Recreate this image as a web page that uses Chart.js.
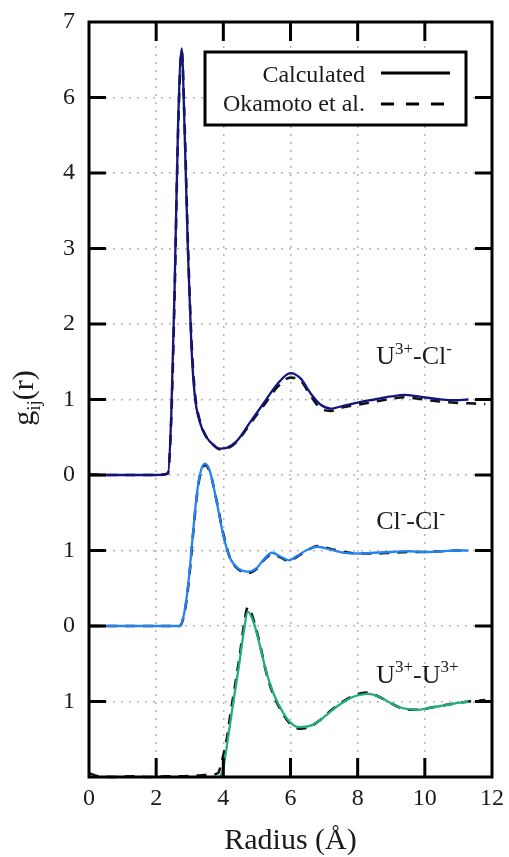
<!DOCTYPE html>
<html>
<head>
<meta charset="utf-8">
<script src="https://cdn.jsdelivr.net/npm/chart.js@4.4.0/dist/chart.umd.min.js"></script>
<style>
  html, body { margin: 0; padding: 0; background: #fff; }
</style>
</head>
<body>
<canvas id="rdfChart" width="509" height="857"></canvas>
<script>
// Radios (Å) y g(r)
const uclR = [0, 1, 2, 2.35, 2.45, 2.55, 2.65, 2.76, 2.85, 2.95, 3.05, 3.15, 3.3, 3.5, 3.7, 3.9, 4.1, 4.4, 4.8, 5.2, 5.6, 6.0, 6.3, 6.6, 6.9, 7.2, 7.6, 8.0, 8.5, 9.0, 9.4, 9.8, 10.3, 10.8, 11.3];
const uclCalc = [0, 0, 0, 0.02, 0.8, 2.5, 4.6, 5.65, 4.5, 2.9, 1.7, 1.05, 0.7, 0.5, 0.4, 0.35, 0.36, 0.45, 0.7, 0.95, 1.2, 1.35, 1.28, 1.08, 0.93, 0.88, 0.92, 0.96, 1.0, 1.04, 1.06, 1.04, 1.01, 0.99, 1.0];
const uclRefR = [0, 0.5, 1, 1.5, 2, 2.35, 2.45, 2.55, 2.65, 2.76, 2.85, 2.95, 3.05, 3.15, 3.3, 3.5, 3.7, 3.9, 4.1, 4.4, 4.8, 5.2, 5.6, 6.0, 6.3, 6.6, 6.9, 7.2, 7.6, 8.0, 8.5, 9.0, 9.4, 9.8, 10.3, 10.8, 11.3, 11.8];
const uclRef = [0.01, 0, 0, 0, 0, 0.02, 0.75, 2.4, 4.5, 5.62, 4.6, 3.0, 1.8, 1.1, 0.72, 0.5, 0.4, 0.34, 0.35, 0.44, 0.68, 0.92, 1.16, 1.29, 1.25, 1.05, 0.88, 0.85, 0.9, 0.93, 0.97, 1.01, 1.03, 1.01, 0.98, 0.96, 0.95, 0.94];

const clclR = [0, 1, 2, 2.7, 2.8, 2.9, 3.0, 3.1, 3.2, 3.3, 3.45, 3.6, 3.8, 4.0, 4.2, 4.45, 4.73, 5.0, 5.2, 5.45, 5.7, 5.95, 6.2, 6.5, 6.8, 7.2, 7.6, 8.0, 8.5, 9.0, 9.5, 10.0, 10.5, 11.0, 11.3];
const clclCalc = [0, 0, 0, 0, 0.1, 0.35, 0.75, 1.25, 1.7, 2.0, 2.15, 2.05, 1.65, 1.2, 0.9, 0.76, 0.72, 0.77, 0.88, 0.97, 0.92, 0.87, 0.93, 1.01, 1.05, 1.01, 0.97, 0.96, 0.97, 0.98, 0.99, 0.98, 0.99, 1.0, 1.0];
const clclRef = [0, 0, 0, 0, 0.09, 0.33, 0.72, 1.22, 1.68, 1.98, 2.13, 2.04, 1.66, 1.22, 0.9, 0.75, 0.7, 0.76, 0.87, 0.95, 0.91, 0.86, 0.92, 1.0, 1.06, 1.02, 0.98, 0.96, 0.96, 0.97, 0.98, 0.98, 0.99, 1.0, 1.0];

const uuR = [3.9, 4.0, 4.1, 4.2, 4.3, 4.48, 4.6, 4.73, 4.9, 5.1, 5.28, 5.5, 5.77, 6.0, 6.27, 6.6, 6.9, 7.2, 7.5, 7.8, 8.1, 8.3, 8.6, 8.9, 9.2, 9.5, 9.8, 10.2, 10.7, 11.3];
const uuCalc = [0, 0.12, 0.4, 0.7, 1.0, 1.52, 1.9, 2.19, 2.05, 1.72, 1.39, 1.1, 0.86, 0.72, 0.66, 0.68, 0.76, 0.87, 0.97, 1.05, 1.09, 1.1, 1.07, 1.0, 0.93, 0.9, 0.89, 0.92, 0.96, 1.0];
const uuRefR = [0, 0.3, 0.8, 1.3, 1.8, 2.3, 2.8, 3.3, 3.6, 3.84, 3.95, 4.1, 4.2, 4.3, 4.48, 4.6, 4.73, 4.9, 5.1, 5.28, 5.5, 5.77, 6.0, 6.27, 6.6, 6.9, 7.2, 7.5, 7.8, 8.1, 8.3, 8.6, 8.9, 9.2, 9.5, 9.8, 10.2, 10.7, 11.3, 11.8];
const uuRef = [0.05, 0.01, 0, 0.01, 0, 0.01, 0.01, 0.02, 0.03, 0.05, 0.2, 0.5, 0.8, 1.08, 1.58, 1.97, 2.25, 2.08, 1.74, 1.38, 1.08, 0.84, 0.7, 0.64, 0.67, 0.76, 0.88, 0.98, 1.06, 1.11, 1.12, 1.07, 1.0, 0.93, 0.89, 0.89, 0.92, 0.96, 1.0, 1.02];

// Desplazamientos verticales de cada par
const offsets = [0, -2, -4];

// Etiquetas de los ejes
const xTicks = [0, 2, 4, 6, 8, 10, 12];
const yTickValues = [-4, -3, -2, -1, 0, 1, 2, 3, 4, 5, 6];
const yTickLabels = ["", "1", "0", "1", "0", "1", "2", "3", "4", "6", "7"];
const legendLabels = ["Calculated", "Okamoto et al."];
const pairLabels = [
  [["U", "n"], ["3+", "sup"], ["-Cl", "n"], ["-", "sup"]],
  [["Cl", "n"], ["-", "sup"], ["-Cl", "n"], ["-", "sup"]],
  [["U", "n"], ["3+", "sup"], ["-U", "n"], ["3+", "sup"]],
];
const pairLabelPos = [[8.55, 1.47], [8.55, -0.72], [8.55, -2.75]];

const SERIF = "'Liberation Serif', 'DejaVu Serif', serif";
const TEXT_COLOR = "#1a1a1a";

function toPoints(rs, gs, off) {
  return rs.map((r, i) => ({ x: r, y: gs[i] + off }));
}

function solid(data, color) {
  return {
    data, borderColor: color, borderWidth: 2.3, pointRadius: 0,
    cubicInterpolationMode: "monotone", order: 1, clip: 4,
  };
}

function dashed(data) {
  return {
    data, borderColor: "#111", borderWidth: 2.6, borderDash: [10, 8],
    pointRadius: 0, cubicInterpolationMode: "monotone", order: 2, clip: 4,
  };
}

// Texto con superindices / subindices
function drawRich(ctx, parts, x, y, size, align) {
  const widths = parts.map(([t, s]) => {
    ctx.font = `${s === "n" ? size : Math.round(size * 0.64)}px ${SERIF}`;
    return ctx.measureText(t).width;
  });
  const total = widths.reduce((a, b) => a + b, 0);
  let cx = align === "center" ? x - total / 2 : x;
  parts.forEach(([t, s], i) => {
    ctx.font = `${s === "n" ? size : Math.round(size * 0.64)}px ${SERIF}`;
    let dy = 0;
    if (s === "sup") dy = -size * 0.4;
    if (s === "sub") dy = size * 0.22;
    ctx.fillText(t, cx, y + dy);
    cx += widths[i];
  });
}

const framePlugin = {
  id: "frame",
  afterDraw(chart) {
    const { ctx, chartArea: a, scales } = chart;
    const xs = scales.x, ys = scales.y;
    ctx.save();

    // marco
    ctx.strokeStyle = "#000";
    ctx.lineWidth = 3;
    ctx.strokeRect(a.left, a.top, a.right - a.left, a.bottom - a.top);

    // marcas hacia dentro
    ctx.beginPath();
    yTickValues.slice(1, -1).forEach((v) => {
      const py = ys.getPixelForValue(v);
      ctx.moveTo(a.left, py); ctx.lineTo(a.left + 17, py);
      ctx.moveTo(a.right, py); ctx.lineTo(a.right - 17, py);
    });
    xTicks.slice(1, -1).forEach((v) => {
      const px = xs.getPixelForValue(v);
      ctx.moveTo(px, a.top); ctx.lineTo(px, a.top + 19);
      ctx.moveTo(px, a.bottom); ctx.lineTo(px, a.bottom - 19);
    });
    ctx.stroke();

    // leyenda
    const lx = 205, ly = 52, lw = 261, lh = 73;
    ctx.fillStyle = "#fff";
    ctx.fillRect(lx, ly, lw, lh);
    ctx.strokeRect(lx, ly, lw, lh);
    ctx.fillStyle = TEXT_COLOR;
    ctx.font = `24px ${SERIF}`;
    ctx.textAlign = "right";
    ctx.textBaseline = "alphabetic";
    ctx.fillText(legendLabels[0], 365, 82);
    ctx.fillText(legendLabels[1], 365, 111);
    ctx.lineWidth = 3;
    ctx.beginPath();
    ctx.moveTo(381, 73); ctx.lineTo(450, 73);
    ctx.stroke();
    ctx.setLineDash([13, 12]);
    ctx.beginPath();
    ctx.moveTo(381, 104); ctx.lineTo(451, 104);
    ctx.stroke();
    ctx.setLineDash([]);

    // nombres de los pares
    ctx.textAlign = "left";
    pairLabels.forEach((parts, i) => {
      const [vx, vy] = pairLabelPos[i];
      drawRich(ctx, parts, xs.getPixelForValue(vx), ys.getPixelForValue(vy), 26, "left");
    });

    // titulo eje x
    ctx.font = `30px ${SERIF}`;
    ctx.textAlign = "center";
    ctx.fillText("Radius (Å)", (a.left + a.right) / 2, 849);

    // titulo eje y
    ctx.translate(33, 398);
    ctx.rotate(-Math.PI / 2);
    ctx.textAlign = "left";
    drawRich(ctx, [["g", "n"], ["ij", "sub"], ["(r)", "n"]], 0, 0, 30, "center");

    ctx.restore();
  },
};

Chart.defaults.font.family = SERIF;
Chart.defaults.color = TEXT_COLOR;

const ctx = document.getElementById("rdfChart").getContext("2d");
new Chart(ctx, {
  type: "line",
  data: {
    datasets: [
      solid(toPoints(uclR, uclCalc, offsets[0]), "#14147e"),
      dashed(toPoints(uclRefR, uclRef, offsets[0])),
      solid(toPoints(clclR, clclCalc, offsets[1]), "#2484f2"),
      dashed(toPoints(clclR, clclRef, offsets[1])),
      solid(toPoints(uuR, uuCalc, offsets[2]), "#1fae7c"),
      dashed(toPoints(uuRefR, uuRef, offsets[2])),
    ],
  },
  options: {
    responsive: false,
    animation: false,
    layout: { padding: { top: 22, right: 17, left: 0, bottom: 0 } },
    plugins: { legend: { display: false }, tooltip: { enabled: false } },
    scales: {
      x: {
        type: "linear",
        min: 0,
        max: 12,
        afterFit: (s) => { s.height = 80; s.paddingLeft = 0; s.paddingRight = 0; },
        afterBuildTicks: (s) => { s.ticks = xTicks.map((v) => ({ value: v })); },
        ticks: { font: { size: 24 }, padding: 7, color: TEXT_COLOR, maxRotation: 0 },
        grid: { color: "#b5b5b5", lineWidth: 1.5, drawTicks: false },
        border: { display: false, dash: [2, 6] },
      },
      y: {
        type: "linear",
        min: -4,
        max: 6,
        afterFit: (s) => { s.width = 89; s.paddingTop = 0; s.paddingBottom = 0; },
        afterBuildTicks: (s) => { s.ticks = yTickValues.map((v) => ({ value: v })); },
        ticks: {
          font: { size: 24 },
          padding: 14,
          color: TEXT_COLOR,
          callback: (v) => yTickLabels[yTickValues.indexOf(v)],
        },
        grid: { color: "#b5b5b5", lineWidth: 1.5, drawTicks: false },
        border: { display: false, dash: [2, 6] },
      },
    },
  },
  plugins: [framePlugin],
});
</script>
</body>
</html>
